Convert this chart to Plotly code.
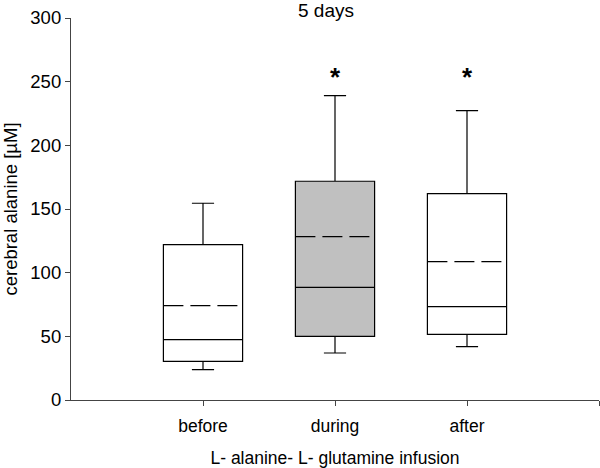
import plotly.graph_objects as go

categories = ["before", "during", "after"]
positions = [1, 2, 3]
q1 = [30.4, 50.0, 51.6]
median = [47.4, 88.5, 73.3]
q3 = [122.0, 171.8, 162.1]
lower = [23.9, 36.9, 41.9]
upper = [154.5, 239.0, 227.3]
means = [74.1, 128.3, 108.7]
fills = ["white", "#c0c0c0", "white"]
sig_marks = ["", "*", "*"]
sig_y = 253.5
box_w = 0.6

fig = go.Figure()
for i in range(3):
    fig.add_trace(go.Box(
        x=[positions[i]], q1=[q1[i]], median=[median[i]], q3=[q3[i]],
        lowerfence=[lower[i]], upperfence=[upper[i]],
        boxmean=False, width=box_w, whiskerwidth=0.28,
        fillcolor=fills[i], line=dict(color="black", width=1.2),
        boxpoints=False, showlegend=False, hoverinfo="skip",
    ))
    fig.add_trace(go.Scatter(
        x=[positions[i] - box_w / 2, positions[i] + box_w / 2], y=[means[i], means[i]],
        mode="lines", line=dict(color="black", width=1.2, dash="20px,7px"),
        showlegend=False, hoverinfo="skip",
    ))
    if sig_marks[i]:
        fig.add_annotation(x=positions[i], y=sig_y, text="<b>*</b>", showarrow=False,
                           font=dict(size=26, color="black", family="Liberation Sans, Arial"),
                           yanchor="middle")

fig.update_layout(
    width=600, height=468,
    margin=dict(l=71, r=1, t=18, b=68),
    plot_bgcolor="white", paper_bgcolor="white",
    font=dict(family="Liberation Sans, Arial", color="black"),
    title=dict(text="5 days", x=326 / 600, xanchor="center", y=1 - 10 / 468, yanchor="middle",
               xref="container", yref="container", font=dict(size=19)),
)
fig.update_xaxes(
    range=[0, 4], tickvals=[1, 2, 3, 4], ticktext=categories + [""],
    ticks="outside", ticklen=5, tickcolor="#444", tickwidth=1,
    showline=True, linecolor="#444", linewidth=1.2, showgrid=False, zeroline=False,
    tickfont=dict(size=17.5), ticklabelstandoff=5,
    title=dict(text="L- alanine- L- glutamine infusion", font=dict(size=17.5), standoff=17),
)
fig.update_yaxes(
    range=[0, 300], tickvals=[0, 50, 100, 150, 200, 250, 300],
    ticks="outside", ticklen=5, tickcolor="#444", tickwidth=1,
    showline=True, linecolor="#444", linewidth=1.2, showgrid=False, zeroline=False,
    tickfont=dict(size=18.5), ticklabeloverflow="allow",
    title=dict(text="cerebral alanine [µM]", font=dict(size=18.5), standoff=15),
)
fig.write_html("out.html", config={"displayModeBar": False},
               post_script="document.body.style.margin='0';")
